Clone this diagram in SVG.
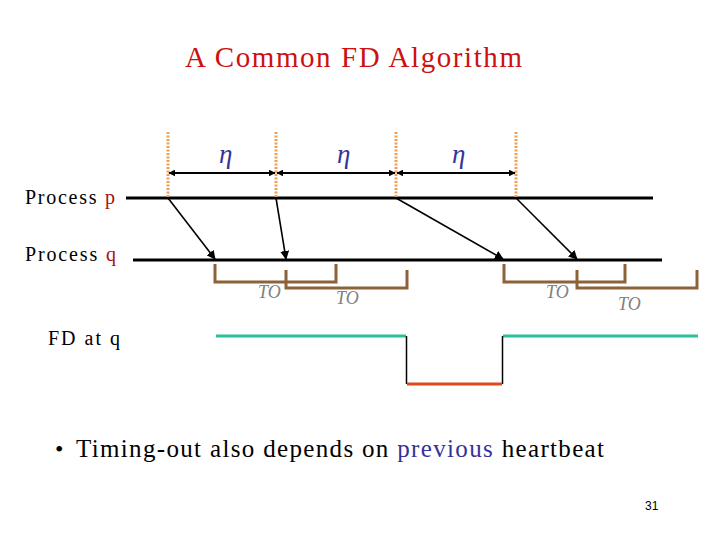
<svg xmlns="http://www.w3.org/2000/svg" width="720" height="540" viewBox="0 0 720 540">
<defs>
<marker id="ah" viewBox="0 0 10 10" refX="9" refY="5" markerWidth="7" markerHeight="7" markerUnits="userSpaceOnUse" orient="auto-start-reverse">
<path d="M0,0 L10,5 L0,10 z" fill="#000"/>
</marker>
<marker id="ah2" viewBox="0 0 10 10" refX="9" refY="5" markerWidth="9" markerHeight="9" markerUnits="userSpaceOnUse" orient="auto">
<path d="M0,0 L10,5 L0,10 z" fill="#000"/>
</marker>
</defs>
<style>
.t{font-family:"Liberation Serif","Times New Roman",serif}
.dash{stroke:#f0a050;stroke-width:3;stroke-dasharray:2 1.5;fill:none}
.dim{stroke:#000;stroke-width:2;marker-start:url(#ah);marker-end:url(#ah)}
.line{stroke:#000;stroke-width:3}
.msg{stroke:#000;stroke-width:1.6;marker-end:url(#ah2)}
.br{stroke:#8c6239;stroke-width:3;fill:none}
.to{font-family:"Liberation Serif",serif;font-style:italic;font-size:18px;fill:#808080}
.eta{font-family:"Liberation Serif",serif;font-style:italic;font-size:27px;fill:#333399}
</style>
<rect width="720" height="540" fill="#fff"/>
<text class="t" x="185" y="67" font-size="29" fill="#cc1111" textLength="337" lengthAdjust="spacing">A Common FD Algorithm</text>
<g id="timeline-p">
<line class="line" x1="126" y1="198" x2="653" y2="198"/>
<text class="t" x="25" y="204" font-size="20" fill="#000" textLength="90" lengthAdjust="spacing">Process <tspan fill="#aa1111">p</tspan></text>
</g>
<g id="timeline-q">
<line class="line" x1="133" y1="260" x2="662" y2="260"/>
<text class="t" x="25" y="261" font-size="20" fill="#000" textLength="91" lengthAdjust="spacing">Process <tspan fill="#aa1111">q</tspan></text>
</g>
<g id="heartbeats">
<line class="dash" x1="168" y1="132" x2="168" y2="198"/>
<line class="dash" x1="276" y1="132" x2="276" y2="198"/>
<line class="dash" x1="396" y1="132" x2="396" y2="198"/>
<line class="dash" x1="516" y1="132" x2="516" y2="198"/>
</g>
<g id="periods">
<line class="dim" x1="169" y1="173" x2="275" y2="173"/>
<line class="dim" x1="277" y1="173" x2="395" y2="173"/>
<line class="dim" x1="397" y1="173" x2="515" y2="173"/>
<text class="eta" x="219" y="163">η</text>
<text class="eta" x="337" y="163">η</text>
<text class="eta" x="452" y="163">η</text>
</g>
<g id="connectors">
<line class="msg" x1="168" y1="198" x2="215" y2="259"/>
<line class="msg" x1="276" y1="198" x2="286" y2="259"/>
<line class="msg" x1="396" y1="198" x2="503" y2="259"/>
<line class="msg" x1="516" y1="198" x2="577" y2="259"/>
</g>
<g id="timeouts">
<path class="br" d="M215,264 V282 H336 V264"/>
<path class="br" d="M286,270 V288 H407 V270"/>
<path class="br" d="M504,264 V282 H625 V264"/>
<path class="br" d="M577,270 V288 H697 V270"/>
<text class="to" x="258" y="298">TO</text>
<text class="to" x="336" y="304">TO</text>
<text class="to" x="546" y="298">TO</text>
<text class="to" x="618" y="310">TO</text>
</g>
<g id="fd">
<text class="t" x="48" y="345" font-size="20" fill="#000" textLength="72" lengthAdjust="spacing">FD at q</text>
<line x1="216" y1="336" x2="406" y2="336" stroke="#2bbf9c" stroke-width="3"/>
<line x1="503" y1="336" x2="698" y2="336" stroke="#2bbf9c" stroke-width="3"/>
<line x1="406.5" y1="336" x2="406.5" y2="384" stroke="#000" stroke-width="1.5"/>
<line x1="502.5" y1="336" x2="502.5" y2="384" stroke="#000" stroke-width="1.5"/>
<line x1="407" y1="384" x2="502" y2="384" stroke="#e04a1a" stroke-width="3"/>
</g>
<text class="t" x="55" y="457" font-size="24" fill="#000">•</text>
<text class="t" x="76" y="457" font-size="25" fill="#000" textLength="528" lengthAdjust="spacing">Timing-out also depends on <tspan fill="#333399">previous</tspan> heartbeat</text>
<text x="645" y="510" font-family="Liberation Sans,Arial,sans-serif" font-size="12" fill="#000">31</text>
</svg>
